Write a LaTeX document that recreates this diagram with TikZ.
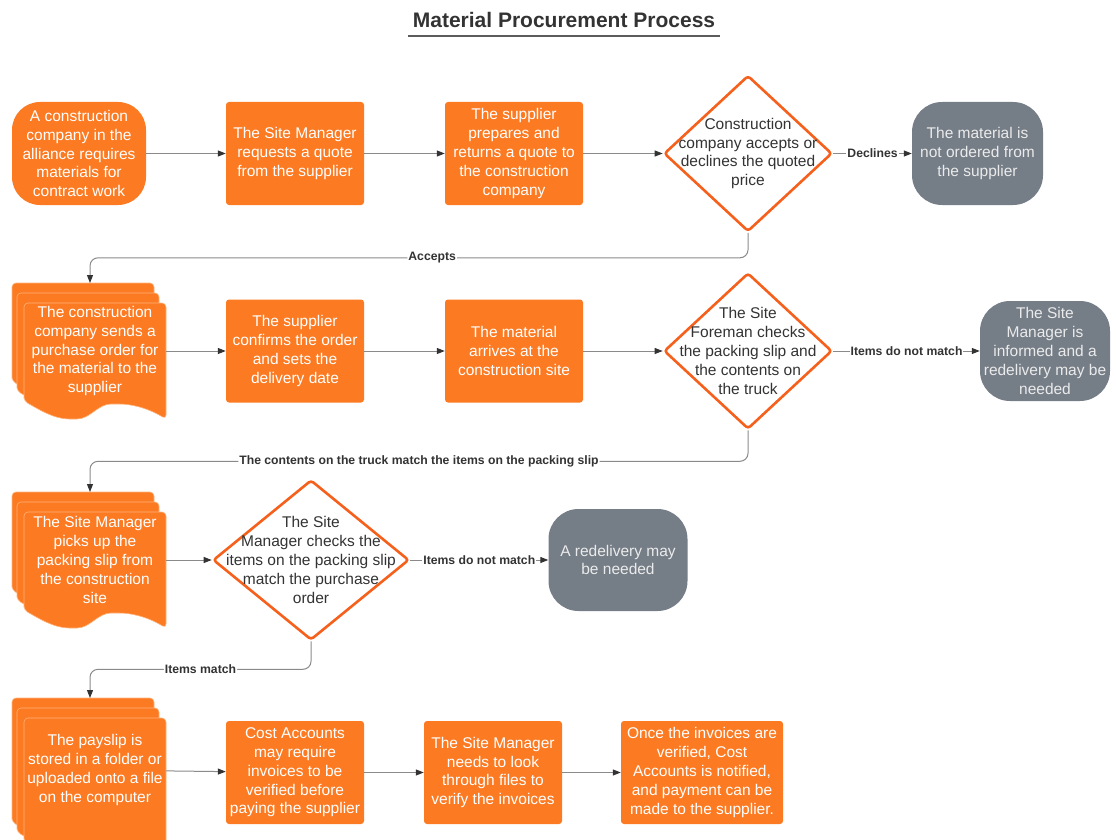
\documentclass[tikz,border=0pt]{standalone}
\usepackage{fontspec}
\setmainfont{Liberation Sans}
\usetikzlibrary{arrows.meta,shapes.geometric}
\definecolor{boxorange}{HTML}{FC7A22}
\definecolor{dline}{HTML}{F5611D}
\definecolor{endgray}{HTML}{757D87}
\definecolor{textgray}{HTML}{333333}
\definecolor{linegray}{HTML}{8A8A8A}
\definecolor{pageline}{HTML}{FFB27A}

\begin{document}
\begin{tikzpicture}[x=1pt,y=-1pt,
  every node/.style={font=\fontsize{15.5}{18.8}\selectfont, align=center,
    inner sep=0pt},
  title/.style={font=\fontsize{21}{25}\selectfont\bfseries, text=textgray,
    minimum width=312pt},
  terminal/.style={fill=boxorange, text=white, rounded corners=28pt,
    minimum width=134pt, minimum height=103pt},
  endbox/.style={fill=endgray, text=white!92!black, rounded corners=30pt,
    minimum width=131pt, minimum height=103pt},
  process/.style={fill=boxorange, text=white, rounded corners=3pt,
    minimum width=138pt, minimum height=103pt},
  decision/.style={diamond, draw=dline, line width=2.6pt, fill=white,
    rounded corners=3pt, minimum width=168pt, minimum height=156pt},
  dtext/.style={text=textgray},
  doctext/.style={text=white, minimum width=142pt},
  page/.style={fill=boxorange, draw=pageline, line width=0.6pt,
    rounded corners=4pt},
  conn/.style={draw=linegray, line width=1pt,
    -{Triangle[length=8pt,width=6pt,color=textgray]}},
  lbl/.style={font=\fontsize{12.2}{14}\selectfont\bfseries, fill=white,
    text=textgray, inner xsep=1pt, inner ysep=1.5pt}]
  \useasboundingbox (0,0) rectangle (1116,840);

  \node[title,anchor=base] (title) at (564,28) {Material Procurement Process};
  \draw[textgray!80, line width=1.2pt] ([yshift=-8pt]title.base west)
    -- ([yshift=-8pt]title.base east);

  \foreach \t/\h in {283/98,492/98,698/124}
    \foreach \dx/\dy in {0/0,5/10,12/20}
      \draw[page,shift={(12+\dx,\t+\dy)}] (0,\h) -- (0,0) -- (142,0)
        -- (142,\h+18) .. controls (122,\h+6) and (106,\h+3) .. (91,\h+3)
        .. controls (74,\h+3) and (66,\h+18) .. (49,\h+18)
        .. controls (30,\h+18) and (14,\h+8) .. (0,\h) -- cycle;

  \node[terminal] (t1) at (79,153.5) {A construction\\company in the\\alliance requires\\materials for\\contract work};
  \node[process] (b1) at (295,153.5) {The Site Manager\\requests a quote\\from the supplier};
  \node[process] (b2) at (514,153.5) {The supplier\\prepares and\\returns a quote to\\the construction\\company};
  \node[decision] (d1) at (748,153.5) {};
  \node[dtext] (d1t) at (d1) {Construction\\company accepts or\\declines the quoted\\price};
  \node[endbox] (g1) at (977.5,153.5) {The material is\\not ordered from\\the supplier};

  \coordinate (p2top) at (90,283);
  \node[doctext] (p2) at (95,351) {The construction\\company sends a\\purchase order for\\the material to the\\supplier};
  \node[process] (b3) at (295,351) {The supplier\\confirms the order\\and sets the\\delivery date};
  \node[process] (b4) at (514,351) {The material\\arrives at the\\construction site};
  \node[decision] (d2) at (748,351) {};
  \node[dtext] (d2t) at (d2) {The Site\\Foreman checks\\the packing slip and\\the contents on\\the truck};
  \node[endbox,minimum width=130pt,minimum height=100pt] (g2) at (1045,351) {The Site\\Manager is\\informed and a\\redelivery may be\\needed};

  \coordinate (p3top) at (90,492);
  \node[doctext] (p3) at (95,560) {The Site Manager\\picks up the\\packing slip from\\the construction\\site};
  \node[decision,minimum width=196pt,minimum height=160pt] (d3) at (311,560) {};
  \node[dtext] (d3t) at (d3) {The Site\\Manager checks the\\items on the packing slip\\match the purchase\\order};
  \node[endbox,minimum width=139pt,minimum height=102pt] (g3) at (618,560) {A redelivery may\\be needed};

  \coordinate (p4top) at (90,698);
  \node[doctext] (p4) at (95,770) {The payslip is\\stored in a folder or\\uploaded onto a file\\on the computer};
  \node[process] (b5) at (295,772.5) {Cost Accounts\\may require\\invoices to be\\verified before\\paying the supplier};
  \node[process] (b6) at (493,772.5) {The Site Manager\\needs to look\\through files to\\verify the invoices};
  \node[process,minimum width=162pt] (b7) at (702,772.5) {Once the invoices are\\verified, Cost\\Accounts is notified,\\and payment can be\\made to the supplier.};

  \draw[conn] (t1) -- (b1);
  \draw[conn] (b1) -- (b2);
  \draw[conn] (b2) -- (d1);
  \draw[conn] (d1) -- node[lbl] {Declines} (g1);
  \draw[conn,rounded corners=8pt] (d1.south) -- ++(0,25)
    -| node[lbl,pos=0.24] {Accepts} (p2top);

  \draw[conn] (p2) -- (b3);
  \draw[conn] (b3) -- (b4);
  \draw[conn] (b4) -- (d2);
  \draw[conn] (d2) -- node[lbl] {Items do not match} (g2);
  \draw[conn,rounded corners=8pt] (d2.south) -- ++(0,31)
    -| node[lbl,pos=0.25] {The contents on the truck match the items on the packing slip} (p3top);

  \draw[conn] (p3) -- (d3);
  \draw[conn] (d3) -- node[lbl] {Items do not match} (g3);
  \draw[conn,rounded corners=8pt] (d3.south) -- ++(0,28)
    -| node[lbl,pos=0.25] {Items match} (p4top);

  \draw[conn] (p4) -- (b5);
  \draw[conn] (b5) -- (b6);
  \draw[conn] (b6) -- (b7);
\end{tikzpicture}
\end{document}
